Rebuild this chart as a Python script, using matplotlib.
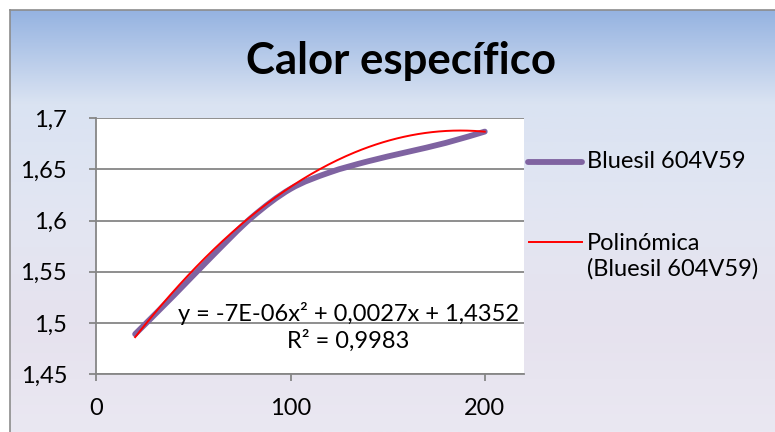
import numpy as np
import matplotlib
matplotlib.use("Agg")
import matplotlib.pyplot as plt
from matplotlib.lines import Line2D
from matplotlib.colors import LinearSegmentedColormap
from matplotlib.path import Path
from matplotlib.patches import PathPatch

# ---- data ----
title = "Calor específico"
temperature = [20, 40, 60, 80, 100, 120, 140, 160, 180, 200]
cp_values = [1.489, 1.527, 1.566, 1.603, 1.631, 1.647, 1.658, 1.667, 1.676, 1.687]
series_name = "Bluesil 604V59"
trend_name = "Polinómica\n(Bluesil 604V59)"
trend_coef = [-7.2e-6, 0.0027, 1.4349]   # quadratic trend line (a, b, c)
equation_text = "y = -7E-06x² + 0,0027x + 1,4352\nR² = 0,9983"
x_ticks = [0, 100, 200]
x_tick_labels = ["0", "100", "200"]
y_ticks = [1.45, 1.5, 1.55, 1.6, 1.65, 1.7]
y_tick_labels = ["1,45", "1,5", "1,55", "1,6", "1,65", "1,7"]

FONT = "Lato"
FS = 17
PURPLE = "#7f63a1"
W, H = 775, 432
fig = plt.figure(figsize=(W / 100, H / 100), dpi=100)
fig.patch.set_facecolor("white")

# ---- gradient chart background ----
bg = fig.add_axes([10 / W, 0, 1 - 10 / W, 1 - 10 / H], zorder=-5)
cmap = LinearSegmentedColormap.from_list(
    "bg",
    [(0.0, (149/255, 179/255, 225/255)),
     (0.22, (218/255, 227/255, 242/255)),
     (0.5, (227/255, 230/255, 242/255)),
     (0.75, (230/255, 226/255, 238/255)),
     (1.0, (234/255, 232/255, 242/255))])
grad = np.linspace(0, 1, 256).reshape(-1, 1)
bg.imshow(grad, aspect="auto", cmap=cmap, extent=[0, 1, 0, 1], origin="upper")
bg.set_xlim(0, 1)
bg.set_ylim(0, 1)
bg.axis("off")
fig.add_artist(Line2D([10 / W, 10 / W], [0, 1 - 10 / H], color="#8c8c8c", lw=1.2))
fig.add_artist(Line2D([10 / W, 1], [1 - 10 / H, 1 - 10 / H], color="#8c8c8c", lw=1.2))

# ---- plot area ----
left, right = 96.3 / W, 523.6 / W
top, bottom = 1 - 118.3 / H, 1 - 374 / H
ax = fig.add_axes([left, bottom, right - left, top - bottom])
ax.set_facecolor("white")
ax.set_xlim(0, 220)
ax.set_ylim(1.45, 1.7)


def smooth_path(xs, ys, t=1 / 6):
    """Excel-style smoothed line: cubic Bezier through the data points."""
    P = np.column_stack([xs, ys]).astype(float)
    n = len(P)
    verts = [P[0]]
    codes = [Path.MOVETO]
    for i in range(n - 1):
        p0 = P[i - 1] if i > 0 else P[i]
        p1, p2 = P[i], P[i + 1]
        p3 = P[i + 2] if i + 2 < n else P[i + 1]
        c1 = p1 + (p2 - p0) * t
        c2 = p2 - (p3 - p1) * t
        verts += [c1, c2, p2]
        codes += [Path.CURVE4] * 3
    return Path(verts, codes)


ax.add_patch(PathPatch(smooth_path(temperature, cp_values), facecolor="none",
                       edgecolor=PURPLE, lw=4.2, capstyle="round",
                       joinstyle="round", zorder=3))
xt = np.linspace(min(temperature), max(temperature), 200)
ax.plot(xt, np.polyval(trend_coef, xt), color="#ff0000", lw=1.4, zorder=4)

ax.set_xticks(x_ticks)
ax.set_xticklabels(x_tick_labels)
ax.set_yticks(y_ticks)
ax.set_yticklabels(y_tick_labels)
ax.grid(axis="y", color="#868686", lw=1.3)
ax.set_axisbelow(True)
for s in ["top", "right"]:
    ax.spines[s].set_visible(False)
for s in ["left", "bottom"]:
    ax.spines[s].set_color("#868686")
    ax.spines[s].set_linewidth(1.3)
ax.tick_params(axis="both", direction="out", length=5, width=1.3, color="#868686",
               labelsize=FS, labelcolor="black")
ax.tick_params(axis="y", pad=16)
ax.tick_params(axis="x", pad=12)
for lab in ax.get_xticklabels() + ax.get_yticklabels():
    lab.set_fontfamily(FONT)

fig.text(348 / W, 1 - 327 / H, equation_text, ha="center", va="center",
         fontsize=FS, family=FONT, linespacing=1.22)

# ---- title ----
fig.text(401 / W, 1 - 61 / H, title, ha="center", va="center",
         fontsize=31.5, fontweight="bold", family=FONT)

# ---- legend (manual) ----
fig.add_artist(Line2D([528 / W, 582 / W], [1 - 162 / H, 1 - 162 / H],
                      color=PURPLE, lw=4.2, solid_capstyle="round"))
fig.text(587 / W, 1 - 162 / H, series_name, ha="left", va="center",
         fontsize=FS, family=FONT)
fig.add_artist(Line2D([529 / W, 582 / W], [1 - 242 / H, 1 - 242 / H],
                      color="#ff0000", lw=1.4))
fig.text(587 / W, 1 - 256.5 / H, trend_name, ha="left", va="center",
         fontsize=FS, family=FONT, linespacing=1.22, multialignment="left")

fig.savefig("out.png", dpi=100)
